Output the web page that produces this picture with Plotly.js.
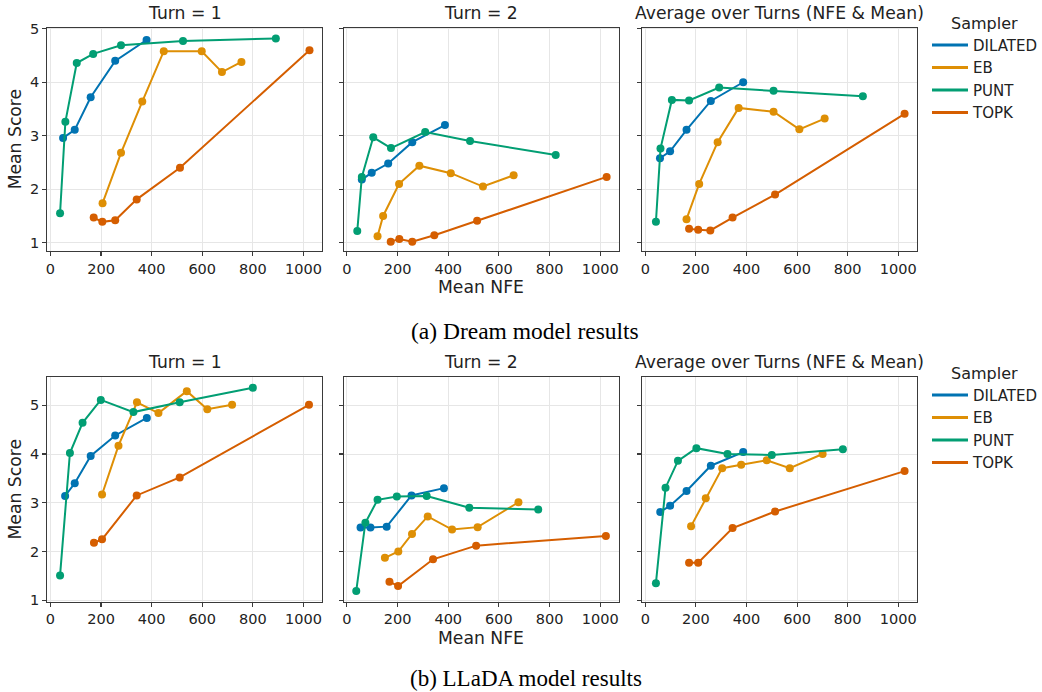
<!DOCTYPE html>
<html>
<head>
<meta charset="utf-8">
<script src="https://cdn.plot.ly/plotly-3.0.1.min.js"></script>
<style>html,body{margin:0;padding:0;background:#fff;}#chart{width:1042px;height:692px;}</style>
</head>
<body>
<div id="chart"></div>
<script>
// ---------- DATA ----------
const SAMPLERS = ['DILATED', 'EB', 'PUNT', 'TOPK'];
const PANEL_TITLES = ['Turn = 1', 'Turn = 2', 'Average over Turns (NFE & Mean)'];
const X_TICKS = [0, 200, 400, 600, 800, 1000];
const Y_TICKS = [1, 2, 3, 4, 5];

// Dream, Turn = 1
const DREAM_T1_DILATED_X = [50, 96, 159, 256, 380];
const DREAM_T1_DILATED_Y = [2.96, 3.11, 3.72, 4.40, 4.79];
const DREAM_T1_EB_X = [206, 279, 363, 448, 598, 678, 755];
const DREAM_T1_EB_Y = [1.74, 2.68, 3.64, 4.58, 4.58, 4.19, 4.38];
const DREAM_T1_PUNT_X = [38, 59, 104, 169, 279, 524, 891];
const DREAM_T1_PUNT_Y = [1.55, 3.26, 4.36, 4.53, 4.69, 4.77, 4.82];
const DREAM_T1_TOPK_X = [171, 205, 256, 341, 512, 1024];
const DREAM_T1_TOPK_Y = [1.47, 1.39, 1.42, 1.81, 2.40, 4.60];

// Dream, Turn = 2
const DREAM_T2_DILATED_X = [59, 98, 163, 258, 387];
const DREAM_T2_DILATED_Y = [2.18, 2.31, 2.48, 2.88, 3.20];
const DREAM_T2_EB_X = [121, 143, 206, 286, 410, 537, 658];
const DREAM_T2_EB_Y = [1.12, 1.50, 2.10, 2.44, 2.30, 2.05, 2.26];
const DREAM_T2_PUNT_X = [41, 59, 104, 174, 309, 486, 824];
const DREAM_T2_PUNT_Y = [1.22, 2.23, 2.97, 2.77, 3.07, 2.90, 2.64];
const DREAM_T2_TOPK_X = [173, 207, 258, 345, 514, 1025];
const DREAM_T2_TOPK_Y = [1.02, 1.07, 1.02, 1.14, 1.41, 2.23];

// Dream, Average over Turns
const DREAM_AVG_DILATED_X = [58, 98, 163, 259, 387];
const DREAM_AVG_DILATED_Y = [2.58, 2.71, 3.11, 3.65, 4.00];
const DREAM_AVG_EB_X = [163, 213, 286, 369, 507, 609, 709];
const DREAM_AVG_EB_Y = [1.44, 2.10, 2.88, 3.52, 3.45, 3.12, 3.32];
const DREAM_AVG_PUNT_X = [42, 60, 105, 173, 292, 507, 860];
const DREAM_AVG_PUNT_Y = [1.39, 2.76, 3.67, 3.66, 3.90, 3.84, 3.74];
const DREAM_AVG_TOPK_X = [173, 209, 257, 345, 513, 1025];
const DREAM_AVG_TOPK_Y = [1.26, 1.24, 1.23, 1.47, 1.90, 3.41];

// LLaDA, Turn = 1
const LLADA_T1_DILATED_X = [58, 96, 159, 256, 381];
const LLADA_T1_DILATED_Y = [3.14, 3.40, 3.96, 4.38, 4.74];
const LLADA_T1_EB_X = [204, 269, 342, 427, 539, 620, 718];
const LLADA_T1_EB_Y = [3.17, 4.17, 5.06, 4.84, 5.29, 4.92, 5.01];
const LLADA_T1_PUNT_X = [38, 77, 127, 199, 328, 511, 800];
const LLADA_T1_PUNT_Y = [1.51, 4.02, 4.64, 5.11, 4.86, 5.06, 5.36];
const LLADA_T1_TOPK_X = [172, 204, 341, 511, 1022];
const LLADA_T1_TOPK_Y = [2.18, 2.25, 3.15, 3.52, 5.01];

// LLaDA, Turn = 2
const LLADA_T2_DILATED_X = [54, 93, 157, 255, 383];
const LLADA_T2_DILATED_Y = [2.49, 2.49, 2.51, 3.15, 3.30];
const LLADA_T2_EB_X = [150, 203, 257, 319, 415, 516, 677];
const LLADA_T2_EB_Y = [1.87, 2.00, 2.36, 2.72, 2.45, 2.50, 3.01];
const LLADA_T2_PUNT_X = [37, 73, 121, 197, 315, 483, 755];
const LLADA_T2_PUNT_Y = [1.19, 2.59, 3.06, 3.13, 3.14, 2.90, 2.86];
const LLADA_T2_TOPK_X = [168, 202, 340, 510, 1022];
const LLADA_T2_TOPK_Y = [1.38, 1.29, 1.84, 2.12, 2.32];

// LLaDA, Average over Turns
const LLADA_AVG_DILATED_X = [59, 98, 163, 259, 387];
const LLADA_AVG_DILATED_Y = [2.81, 2.94, 3.24, 3.76, 4.04];
const LLADA_AVG_EB_X = [181, 239, 304, 379, 480, 571, 701];
const LLADA_AVG_EB_Y = [2.52, 3.09, 3.71, 3.78, 3.87, 3.71, 4.00];
const LLADA_AVG_PUNT_X = [42, 80, 129, 202, 325, 500, 781];
const LLADA_AVG_PUNT_Y = [1.35, 3.31, 3.86, 4.12, 4.00, 3.98, 4.10];
const LLADA_AVG_TOPK_X = [173, 209, 345, 513, 1025];
const LLADA_AVG_TOPK_Y = [1.77, 1.77, 2.48, 2.82, 3.65];

// ---------- STYLE ----------
const COLORS = {DILATED: '#0173b2', EB: '#de8f05', PUNT: '#029e73', TOPK: '#d55e00'};
const FONT = 'DejaVu Sans, sans-serif';
const SERIF = 'Liberation Serif, Times New Roman, serif';
const W = 1042, H = 692;
const TITLE_SIZE = 17.2, TICK_SIZE = 14.5, LEG_SIZE = 15;

const PANELS = [
  [[DREAM_T1_DILATED_X, DREAM_T1_DILATED_Y], [DREAM_T1_EB_X, DREAM_T1_EB_Y], [DREAM_T1_PUNT_X, DREAM_T1_PUNT_Y], [DREAM_T1_TOPK_X, DREAM_T1_TOPK_Y]],
  [[DREAM_T2_DILATED_X, DREAM_T2_DILATED_Y], [DREAM_T2_EB_X, DREAM_T2_EB_Y], [DREAM_T2_PUNT_X, DREAM_T2_PUNT_Y], [DREAM_T2_TOPK_X, DREAM_T2_TOPK_Y]],
  [[DREAM_AVG_DILATED_X, DREAM_AVG_DILATED_Y], [DREAM_AVG_EB_X, DREAM_AVG_EB_Y], [DREAM_AVG_PUNT_X, DREAM_AVG_PUNT_Y], [DREAM_AVG_TOPK_X, DREAM_AVG_TOPK_Y]],
  [[LLADA_T1_DILATED_X, LLADA_T1_DILATED_Y], [LLADA_T1_EB_X, LLADA_T1_EB_Y], [LLADA_T1_PUNT_X, LLADA_T1_PUNT_Y], [LLADA_T1_TOPK_X, LLADA_T1_TOPK_Y]],
  [[LLADA_T2_DILATED_X, LLADA_T2_DILATED_Y], [LLADA_T2_EB_X, LLADA_T2_EB_Y], [LLADA_T2_PUNT_X, LLADA_T2_PUNT_Y], [LLADA_T2_TOPK_X, LLADA_T2_TOPK_Y]],
  [[LLADA_AVG_DILATED_X, LLADA_AVG_DILATED_Y], [LLADA_AVG_EB_X, LLADA_AVG_EB_Y], [LLADA_AVG_PUNT_X, LLADA_AVG_PUNT_Y], [LLADA_AVG_TOPK_X, LLADA_AVG_TOPK_Y]]
];

// pixel boxes of panels
const COLS_PX = [[47.5, 322.5], [344.5, 620], [643.5, 918.5]];
const ROWS_PX = [[27.7, 251], [377.3, 601.7]];
const Y_RANGES = [[0.845, 5.02], [0.97, 5.574]];
const X_RANGE = [-12, 1073];

function legendCfg(topPx) {
  return {
    x: 929 / W, y: 1 - topPx / H, xanchor: 'left', yanchor: 'top',
    title: {text: 'Sampler', font: {size: 16, family: FONT, color: '#222'}, side: 'top center'},
    font: {size: LEG_SIZE, family: FONT, color: '#222'}, bgcolor: 'rgba(0,0,0,0)',
    tracegroupgap: 0, itemwidth: 36
  };
}

const traces = [];
const layout = {
  width: W, height: H,
  margin: {l: 0, r: 0, t: 0, b: 0},
  paper_bgcolor: '#fff', plot_bgcolor: '#fff',
  font: {family: FONT, color: '#222'},
  showlegend: true,
  annotations: [],
  legend: legendCfg(8),
  legend2: legendCfg(358)
};

for (let p = 0; p < 6; p++) {
  const row = Math.floor(p / 3), col = p % 3;
  const idx = p + 1;
  const xa = idx === 1 ? 'x' : 'x' + idx;
  const ya = idx === 1 ? 'y' : 'y' + idx;
  const xKey = idx === 1 ? 'xaxis' : 'xaxis' + idx;
  const yKey = idx === 1 ? 'yaxis' : 'yaxis' + idx;
  const [l, r] = COLS_PX[col];
  const [t, b] = ROWS_PX[row];
  layout[xKey] = {
    domain: [l / W, r / W], anchor: ya, range: X_RANGE, tickvals: X_TICKS,
    showgrid: true, gridcolor: '#e6e6e6', gridwidth: 1, zeroline: false,
    showline: true, mirror: true, linecolor: '#3a3a3a', linewidth: 1.2,
    ticks: 'outside', ticklen: 4, tickwidth: 1.1, tickcolor: '#3a3a3a',
    tickfont: {size: TICK_SIZE, family: FONT, color: '#222'}
  };
  layout[yKey] = {
    domain: [1 - b / H, 1 - t / H], anchor: xa, range: Y_RANGES[row], tickvals: Y_TICKS,
    showgrid: true, gridcolor: '#e6e6e6', gridwidth: 1, zeroline: false,
    showline: true, mirror: true, linecolor: '#3a3a3a', linewidth: 1.2,
    ticks: 'outside', ticklen: 4, tickwidth: 1.1, tickcolor: '#3a3a3a',
    showticklabels: col === 0,
    tickfont: {size: TICK_SIZE, family: FONT, color: '#222'}
  };
  PANELS[p].forEach((s, k) => {
    traces.push({
      type: 'scatter', mode: 'lines+markers', x: s[0], y: s[1], xaxis: xa, yaxis: ya,
      name: SAMPLERS[k], showlegend: false, hoverinfo: 'skip',
      line: {color: COLORS[SAMPLERS[k]], width: 2},
      marker: {color: COLORS[SAMPLERS[k]], size: 8}
    });
  });
  layout.annotations.push({
    text: PANEL_TITLES[col], xref: 'paper', yref: 'paper',
    x: ((l + r) / 2) / W, y: 1 - (t - 3) / H, xanchor: 'center', yanchor: 'bottom',
    showarrow: false, font: {size: TITLE_SIZE, family: FONT, color: '#222'}
  });
}

// legend entries (line only)
SAMPLERS.forEach(sname => {
  ['legend', 'legend2'].forEach((lg, i) => {
    traces.push({
      type: 'scatter', mode: 'lines', x: [null], y: [null],
      xaxis: i === 0 ? 'x3' : 'x6', yaxis: i === 0 ? 'y3' : 'y6',
      name: sname, legend: lg, showlegend: true,
      line: {color: COLORS[sname], width: 3}
    });
  });
});

// axis titles and captions
[0, 1].forEach(row => {
  const [t, b] = ROWS_PX[row];
  layout.annotations.push({
    text: 'Mean Score', xref: 'paper', yref: 'paper', x: 15 / W, y: 1 - ((t + b) / 2) / H,
    textangle: -90, showarrow: false, xanchor: 'center', yanchor: 'middle',
    font: {size: TITLE_SIZE, family: FONT, color: '#222'}
  });
  layout.annotations.push({
    text: 'Mean NFE', xref: 'paper', yref: 'paper', x: ((COLS_PX[1][0] + COLS_PX[1][1]) / 2) / W,
    y: 1 - (b + 36) / H, showarrow: false, xanchor: 'center', yanchor: 'middle',
    font: {size: TITLE_SIZE, family: FONT, color: '#222'}
  });
});
layout.annotations.push({
  text: '(a) Dream model results', xref: 'paper', yref: 'paper', x: 526 / W, y: 1 - 331 / H,
  showarrow: false, xanchor: 'center', yanchor: 'middle', borderpad: 0,
  font: {size: 23.5, family: SERIF, color: '#000'}
});
layout.annotations.push({
  text: '(b) LLaDA model results', xref: 'paper', yref: 'paper', x: 527 / W, y: 0,
  showarrow: false, xanchor: 'center', yanchor: 'bottom', borderpad: 0,
  font: {size: 23, family: SERIF, color: '#000'}
});

Plotly.newPlot('chart', traces, layout, {staticPlot: true, displayModeBar: false});
</script>
</body>
</html>
